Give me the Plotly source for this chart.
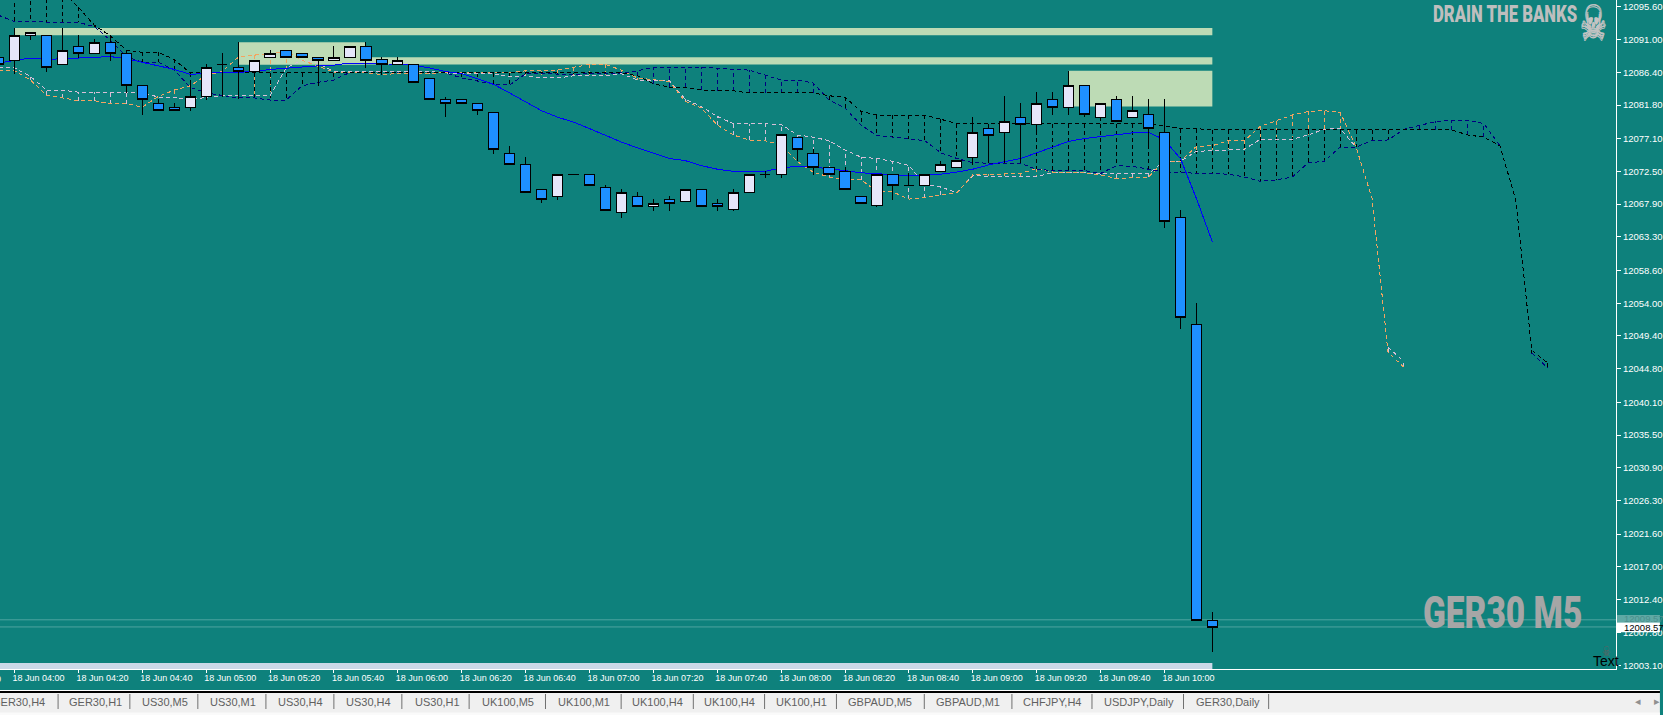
import pandas as pd
import plotly.graph_objects as go

W, H = 1663, 715
PLOT_W, PLOT_H = 1619, 669
Y_TOP, Y_BOTTOM = 12096.54, 12002.67
X_FIRST_TICK_PX = 14.6

BG = "#0E817C"
UP = "#E6E6FA"
DOWN = "#1E90FF"
ZONE = "#BDDBB5"

candle_open = [12088.5,12088.0,12091.6,12091.6,12087.5,12090.0,12089.1,12090.6,12089.1,12084.6,12082.0,12081.5,12081.5,12083.0,12087.5,12087.1,12086.5,12088.5,12089.5,12089.1,12088.5,12088.1,12088.5,12090.0,12088.2,12087.5,12087.5,12085.5,12082.6,12082.6,12082.0,12080.8,12075.0,12073.5,12070.0,12069.0,12072.1,12072.1,12070.3,12066.7,12069.0,12067.5,12068.6,12068.2,12070.0,12068.0,12067.1,12069.5,12072.1,12072.1,12077.3,12075.0,12073.1,12072.5,12069.0,12067.7,12072.1,12070.5,12070.5,12072.5,12073.0,12074.4,12078.5,12077.9,12080.1,12079.1,12082.6,12081.4,12084.6,12080.1,12082.6,12080.1,12080.5,12078.0,12066.0,12051.0,12009.5]
candle_high = [12088.5,12092.6,12092.0,12091.6,12092.6,12091.6,12091.1,12091.2,12089.1,12084.6,12082.7,12082.1,12085.0,12087.5,12089.1,12090.6,12088.1,12089.5,12089.5,12089.1,12088.5,12090.1,12090.0,12090.6,12088.5,12088.5,12087.5,12085.5,12083.0,12082.6,12082.0,12080.8,12076.1,12074.5,12070.0,12072.1,12072.1,12072.1,12070.6,12070.0,12069.6,12068.6,12069.0,12070.0,12070.0,12068.6,12070.0,12072.1,12072.6,12077.6,12077.3,12075.6,12073.1,12073.1,12069.0,12072.1,12072.1,12072.2,12072.1,12074.0,12074.0,12080.1,12079.0,12083.1,12082.1,12083.6,12083.6,12086.6,12084.6,12082.0,12083.1,12083.1,12082.6,12082.6,12067.1,12054.0,12010.6]
candle_low = [12087.5,12086.1,12090.9,12086.5,12087.5,12088.4,12089.1,12088.0,12083.5,12080.4,12081.1,12081.1,12081.0,12082.5,12083.0,12082.7,12086.0,12088.5,12088.5,12088.5,12084.5,12088.1,12088.5,12087.0,12086.0,12087.5,12085.0,12082.6,12080.1,12082.0,12080.4,12075.0,12073.5,12069.6,12068.0,12068.5,12072.1,12070.5,12067.0,12066.0,12067.5,12067.0,12067.0,12068.2,12067.5,12067.0,12067.0,12069.5,12071.5,12071.5,12074.0,12072.0,12072.1,12069.9,12068.0,12067.5,12068.5,12070.5,12070.5,12072.5,12073.0,12073.4,12073.6,12073.6,12074.2,12077.7,12080.4,12080.4,12080.1,12079.5,12079.5,12080.1,12076.2,12064.5,12050.4,12009.5,12005.0]
candle_close = [12087.5,12091.6,12092.0,12087.1,12089.5,12089.1,12090.6,12089.1,12084.5,12082.6,12081.1,12081.1,12083.0,12087.1,12087.5,12086.5,12088.1,12089.1,12088.5,12088.5,12088.1,12088.5,12090.0,12088.1,12087.5,12088.1,12085.0,12082.6,12082.0,12082.0,12081.1,12075.6,12073.5,12069.6,12068.6,12072.1,12072.1,12070.5,12067.0,12069.6,12067.5,12068.0,12068.0,12070.0,12067.5,12067.5,12069.6,12072.1,12072.1,12077.6,12075.5,12073.0,12072.1,12069.9,12068.0,12072.1,12070.5,12070.5,12072.1,12073.5,12074.0,12078.0,12077.5,12079.5,12079.1,12082.0,12081.4,12084.6,12080.5,12082.0,12079.5,12081.1,12078.5,12065.5,12052.0,12009.5,12008.5]

ma_line = [12087.7,12088.0,12088.4,12088.2,12088.3,12088.4,12088.6,12088.6,12088.3,12087.8,12087.3,12086.8,12086.1,12086.3,12086.4,12086.4,12086.5,12086.8,12087.0,12087.1,12087.3,12087.4,12087.7,12087.7,12087.6,12087.5,12087.4,12087.0,12086.5,12086.2,12085.5,12084.7,12083.5,12082.2,12081.0,12080.1,12079.4,12078.5,12077.5,12076.6,12075.8,12075.1,12074.3,12074.0,12073.3,12072.8,12072.5,12072.5,12072.5,12073.0,12073.2,12073.1,12072.9,12072.6,12072.3,12072.2,12072.1,12071.9,12072.0,12072.1,12072.4,12072.8,12073.4,12073.9,12074.3,12075.1,12075.9,12076.7,12077.1,12077.4,12077.6,12077.9,12078.0,12076.9,12074.3,12068.7,12062.6]

span_black = [12100.8,12100.0,12099.3,12098.6,12097.8,12095.5,12093.0,12091.5,12089.5,12089.2,12089.2,12088.2,12086.3,
 12086.3,12086.3,12086.3,12086.3,12086.3,12086.3,12086.3,12086.3,12086.3,12086.3,12086.3,12086.3,12086.3,12086.3,12086.3,12086.3,12086.3,12086.3,12086.3,12086.3,12086.3,12086.3,12086.3,12086.3,12086.3,12086.3,12086.3,
 12085.9,12084.8,12084.3,12084.3,12083.9,12083.8,12083.8,12083.5,12083.5,12083.5,12083.5,12083.5,12083.1,12082.9,12080.9,12080.4,12080.4,12080.4,12080.4,12079.8,
 12079.2,12079.2,12079.2,12079.2,12079.2,12079.2,12079.2,12079.2,12079.2,12079.2,12079.2,12079.2,12079.2,
 12078.9,12078.5,12078.5,
 12078.3,12078.3,12078.3,12078.3,12078.3,12078.3,12078.3,12078.3,12078.3,12078.3,12078.3,12078.3,12078.3,12078.3,12078.3,12078.3,
 12077.6,12077.3,12076.1,12068.5,12047.4,12045.6]

span_navy = [12094.4,12093.5,12093.5,12093.4,12093.4,12093.4,12092.8,12090.9,12088.6,12087.8,12087.8,12086.7,12084.3,12083.5,12083.1,12082.8,12082.8,12082.5,12082.5,12084.5,12085.0,12085.3,12086.4,12086.4,12086.4,12086.4,12086.4,12086.3,12086.3,12085.6,12085.2,12084.7,12084.6,12086.2,12086.2,12086.1,12086.1,12086.2,12086.2,12086.3,12086.6,12087.1,12087.1,12087.0,12087.1,12087.0,12086.8,12086.7,12086.0,12085.3,12085.3,12084.9,12082.5,12081.4,12079.0,12077.5,12077.3,12077.1,12076.8,12075.1,12074.3,12073.7,12073.6,12073.6,12073.6,12072.8,12072.6,12072.6,12072.6,12072.2,12073.3,12073.2,12072.8,12072.4,12072.4,12072.2,12072.2,12072.1,12071.7,12071.1,12071.3,12071.7,12073.7,12073.9,12075.9,12075.9,12076.8,12076.9,12078.4,12079.0,12079.5,12079.7,12079.7,12079.2,12076.1,12068.5,12047.0,12044.9]

span_orange = [12086.6,12086.6,12085.3,12083.2,12082.8,12082.4,12082.4,12082.0,12082.0,12081.5,12083.0,12083.9,12084.5,12086.0,12086.5,12088.5,12088.8,12089.1,12089.3,12088.1,12087.3,12086.4,12086.3,12086.3,12086.1,12086.2,12086.3,12086.2,12086.4,12086.3,12086.3,12086.3,12086.4,12086.6,12086.6,12086.7,12087.1,12087.5,12087.5,12086.7,12085.6,12085.3,12085.1,12082.3,12081.4,12079.0,12077.6,12076.9,12076.8,12076.2,12073.9,12072.4,12071.7,12071.4,12071.3,12069.7,12069.6,12068.6,12068.8,12069.2,12069.5,12072.0,12072.1,12072.2,12072.2,12072.9,12072.4,12072.4,12072.3,12072.0,12071.5,12071.6,12071.7,12073.9,12073.9,12076.0,12076.1,12076.8,12076.8,12078.8,12079.6,12080.4,12080.9,12081.0,12080.8,12075.9,12068.7,12047.1,12045.0]

span_lavender = [12087.0,12087.0,12085.8,12083.9,12083.9,12083.6,12083.6,12083.6,12083.6,12083.6,12082.9,12082.9,12082.5,12082.9,12083.1,12083.1,12083.1,12083.1,12087.0,12088.1,12087.7,12086.5,12086.5,12086.5,12086.5,12086.5,12086.5,12086.5,12086.3,12086.2,12086.2,12086.2,12085.8,12085.9,12085.6,12085.6,12085.9,12085.9,12085.9,12086.2,12085.3,12085.3,12085.2,12082.6,12081.6,12080.2,12079.2,12079.2,12079.2,12079.1,12077.6,12077.3,12076.8,12075.5,12074.5,12074.3,12073.9,12073.3,12070.7,12070.3,12069.5,12071.9,12071.8,12071.8,12071.8,12071.8,12072.3,12072.3,12072.3,12072.2,12072.2,12072.2,12072.2,12073.9,12073.9,12075.3,12075.4,12075.6,12075.6,12077.0,12077.0,12077.0,12077.6,12078.4,12078.5,12075.9,12068.7,12047.8,12045.8]

y_ticks = ["12095.60","12091.00","12086.40","12081.80","12077.10","12072.50","12067.90","12063.30","12058.60","12054.00","12049.40","12044.80","12040.10","12035.50","12030.90","12026.30","12021.60","12017.00","12012.40","12007.80","12003.10"]
x_tick_times = ["04:00","04:20","04:40","05:00","05:20","05:40","06:00","06:20","06:40","07:00","07:20","07:40","08:00","08:20","08:40","09:00","09:20","09:40","10:00"]
DAY = "2019-06-18 "
ask_price, bid_price = 12009.57, 12008.57

tab_labels = ["GER30,H4","GER30,H1","US30,M5","US30,M1","US30,H4","US30,H4","US30,H1","UK100,M5","UK100,M1","UK100,H4","UK100,H4","UK100,H1","GBPAUD,M5","GBPAUD,M1","CHFJPY,H4","USDJPY,Daily","GER30,Daily"]
tab_text_px = [-9,68,141,209,278,346,414.5,481.4,557.6,632,704.5,776,849,937,1024,1105,1197]
tab_sep_px = [58.2,130.1,198.2,266.4,334.5,402.6,470,546.5,622.3,694.6,766,838,926,1013.8,1094,1185.7,1271]

assert len(candle_open) == len(candle_high) == len(candle_low) == len(candle_close) == len(ma_line) == 77
assert len(span_black) == len(span_navy) == 98, (len(span_black), len(span_navy))
assert len(span_orange) == len(span_lavender) == 89, (len(span_orange), len(span_lavender))

start = pd.Timestamp(DAY + "03:55")
times = [start + pd.Timedelta(minutes=5 * k) for k in range(98)]
five = pd.Timedelta(minutes=5)
x_left = pd.Timestamp(DAY + "04:00") - five * (X_FIRST_TICK_PX / 16)
x_right = x_left + five * (PLOT_W / 16)


def px(x):
    return x / PLOT_W


def py(y):
    return (PLOT_H - y) / PLOT_H


fig = go.Figure()


def hatch(top_a, top_b, color_a, color_b):
    """Vertical dashed ties of a cloud, coloured by the upper span."""
    for series_color, keep in ((color_a, lambda a, b: a > b), (color_b, lambda a, b: b > a)):
        xs, ys = [], []
        for t, a, b in zip(times, top_a, top_b):
            if keep(a, b):
                xs += [t, t, None]
                ys += [a, b, None]
        fig.add_trace(go.Scatter(x=xs, y=ys, mode="lines", hoverinfo="skip", showlegend=False,
                                 line=dict(color=series_color, width=1, dash="4px,3px")))


COL_BLACK, COL_NAVY, COL_ORANGE, COL_LAV = "#000000", "#000080", "#F4A460", "#D8BFD8"
hatch(span_orange, span_lavender, COL_ORANGE, COL_LAV)
hatch(span_black, span_navy, COL_BLACK, COL_NAVY)

# In the steep final drop the two spans of a pair coincide: only the one on top is drawn there,
# so that the dashes stay open as in the terminal.
for vals, col, hidden in ((span_lavender, COL_LAV, 86), (span_orange, COL_ORANGE, None),
                          (span_navy, COL_NAVY, 95), (span_black, COL_BLACK, None)):
    shown = [None if k == hidden else v for k, v in enumerate(vals)]
    fig.add_trace(go.Scatter(x=times[:len(vals)], y=shown, mode="lines", showlegend=False, hoverinfo="skip",
                             line=dict(color=col, width=1, dash="4px,3px")))

fig.add_trace(go.Scatter(x=times[:77], y=ma_line, mode="lines", showlegend=False, hoverinfo="skip",
                         line=dict(color="#0000FF", width=1)))

fig.add_trace(go.Candlestick(
    x=times[:77], open=candle_open, high=candle_high, low=candle_low, close=candle_close,
    xaxis="x2", yaxis="y2",
    whiskerwidth=0, showlegend=False,
    increasing=dict(line=dict(color="#000000", width=1), fillcolor=UP),
    decreasing=dict(line=dict(color="#000000", width=1), fillcolor=DOWN),
))

t0, t75 = times[1], times[76]
t14, t22, t66 = times[15], times[23], times[67]
shapes = [
    dict(type="rect", xref="x", yref="y", x0=t0, x1=t75, y0=12091.6, y1=12092.6, fillcolor=ZONE, line_width=0, layer="below"),
    dict(type="rect", xref="x", yref="y", x0=t14, x1=t75, y0=12087.5, y1=12088.5, fillcolor=ZONE, line_width=0, layer="below"),
    dict(type="rect", xref="x", yref="y", x0=t14, x1=t22, y0=12087.5, y1=12090.6, fillcolor=ZONE, line_width=0, layer="below"),
    dict(type="rect", xref="x", yref="y", x0=t66, x1=t75, y0=12081.6, y1=12086.6, fillcolor=ZONE, line_width=0, layer="below"),
    dict(type="rect", xref="paper", yref="y", x0=0, x1=px(X_FIRST_TICK_PX + 1200), y0=Y_BOTTOM, y1=12003.5, fillcolor="#CCD9E8", line_width=0, layer="below"),
    dict(type="line", xref="paper", yref="y", x0=0, x1=1, y0=ask_price, y1=ask_price, line=dict(color="#4FA5A0", width=1), layer="below"),
    dict(type="line", xref="paper", yref="y", x0=0, x1=1, y0=bid_price, y1=bid_price, line=dict(color="#4FA5A0", width=1), layer="below"),
    # price labels on the axis
    dict(type="rect", xref="paper", yref="paper", x0=px(1620), x1=px(W), y0=py(622.5), y1=py(615), fillcolor="#5FA9A5", line_width=0),
    dict(type="rect", xref="paper", yref="paper", x0=px(1620), x1=px(W), y0=py(632.3), y1=py(622.5), fillcolor="#FFFFFF", line_width=0),
    # terminal tab bar
    dict(type="rect", xref="paper", yref="paper", x0=0, x1=px(W), y0=py(H), y1=py(693), fillcolor="#F0F0F0", line_width=0),
    dict(type="rect", xref="paper", yref="paper", x0=0, x1=px(W), y0=py(693), y1=py(691), fillcolor="#000000", line_width=0),
    dict(type="rect", xref="paper", yref="paper", x0=0, x1=px(W), y0=py(691), y1=py(690), fillcolor="#FFFFFF", line_width=0),
    dict(type="rect", xref="paper", yref="paper", x0=0, x1=px(W), y0=py(H), y1=py(712.5), fillcolor="#FAFAFA", line_width=0),
]
for s in tab_sep_px:
    shapes.append(dict(type="line", xref="paper", yref="paper", x0=px(s), x1=px(s), y0=py(694), y1=py(709),
                       line=dict(color="#707070", width=1)))

TICK_FONT = dict(family="Liberation Sans", size=9.5, color="#FFFFFF")


def note(text, x, y, size, color, family="Liberation Sans", weight=None, shadow=None, xanchor="left", **kw):
    font = dict(family=family, size=size, color=color)
    if weight:
        font["weight"] = weight
    if shadow:
        font["shadow"] = shadow
    return dict(text=text, xref="paper", yref="paper", x=px(x), y=py(y), xanchor=xanchor, yanchor="middle",
                showarrow=False, font=font, borderpad=0, **kw)


annotations = [
    note("18 Jun 03:40", -52, 678.7, 9, "#FFFFFF"),
    note("DRAIN THE BANKS", 1581, 14.7, 16.7, "#BEBEBE", family="Roboto", weight=900, xanchor="right"),
    note("☠", 1596, 23, 38, "#C4C4C4", family="DejaVu Sans", shadow="1px 0 #C4C4C4, 0 1px #C4C4C4", xanchor="center"),
    note("GER30 M5", 1586, 613, 33.5, "#A6A6A6", family="Roboto", weight=900, xanchor="right"),
    note("☠", 1609, 652, 12, "#606060", family="DejaVu Sans", xanchor="center"),
    note("Text", 1595, 661, 14, "#000000", family="Liberation Sans"),
    note("12009.57", 1625.7, 618.7, 9.5, "#4B8F8C"),
    note("12008.57", 1625.7, 627.4, 9.5, "#000000"),
    note("◂", 1641, 701, 11, "#909090", family="DejaVu Sans", xanchor="center"),
    note("▸", 1660, 701, 11, "#909090", family="DejaVu Sans", xanchor="center"),
]
for lab, xp in zip(tab_labels, tab_text_px):
    annotations.append(note(lab, xp, 701.7, 11, "#606060"))

fig.update_layout(
    width=W, height=H,
    margin=dict(l=0, r=W - PLOT_W, t=0, b=H - PLOT_H, pad=0),
    paper_bgcolor=BG, plot_bgcolor=BG,
    showlegend=False, boxgap=0.36, boxgroupgap=0, hovermode=False,
    shapes=shapes, annotations=annotations,
    xaxis=dict(type="date", range=[x_left, x_right], showgrid=False, zeroline=False,
               showline=True, linecolor="#FFFFFF", linewidth=1,
               tickmode="array", tickvals=[DAY + t for t in x_tick_times],
               ticktext=["18 Jun " + t for t in x_tick_times],
               ticks="outside", ticklen=3, tickcolor="#FFFFFF", tickfont=dict(TICK_FONT, size=9),
               tickangle=0, ticklabelposition="outside right", ticklabelshift=-3),
    yaxis=dict(side="right", range=[Y_BOTTOM, Y_TOP], showgrid=False, zeroline=False,
               showline=True, linecolor="#FFFFFF", linewidth=1,
               tickmode="array", tickvals=[float(v) for v in y_ticks], ticktext=y_ticks,
               ticks="outside", ticklen=4, tickcolor="#FFFFFF", tickfont=TICK_FONT),
    xaxis2=dict(type="date", overlaying="x", range=[x_left, x_right], visible=False, rangeslider_visible=False),
    yaxis2=dict(overlaying="y", side="right", range=[Y_BOTTOM, Y_TOP], visible=False),
)

POST = """
document.body.style.margin='0';document.body.style.overflow='hidden';
document.querySelectorAll('.scatterlayer path, .boxlayer path').forEach(function(p){p.style.shapeRendering='crispEdges';});
var stretch={'DRAIN THE BANKS':'scale(1,1.4)','GER30 M5':'scale(1,1.3)','\\u2620':'scale(0.8,1.25)'};
document.querySelectorAll('.annotation-text').forEach(function(t){
  var s=stretch[t.textContent];
  if(s){t.style.transformBox='fill-box';t.style.transformOrigin='center';t.style.transform=s;}
});
"""
fig.write_html("out.html", config=dict(displayModeBar=False), post_script=POST)
